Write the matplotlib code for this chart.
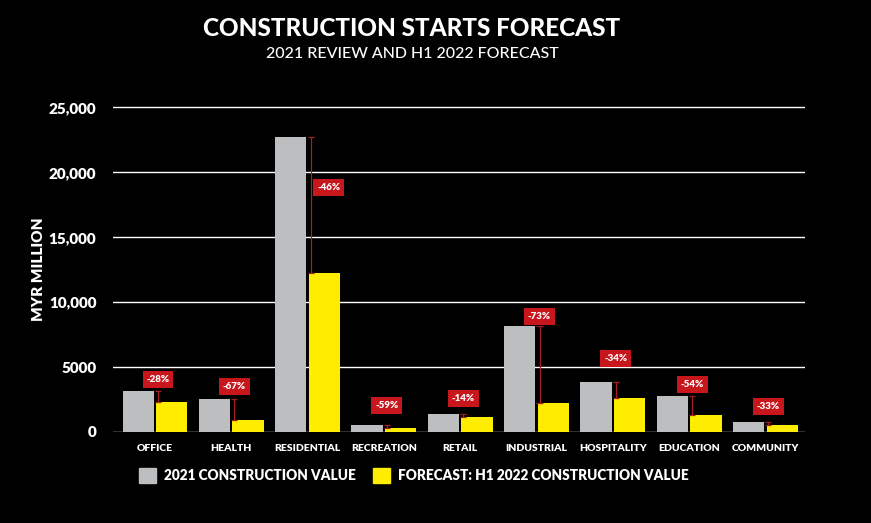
import matplotlib
matplotlib.use("Agg")
import matplotlib.pyplot as plt
import numpy as np
from matplotlib.patches import Patch

categories = ["OFFICE", "HEALTH", "RESIDENTIAL", "RECREATION", "RETAIL",
              "INDUSTRIAL", "HOSPITALITY", "EDUCATION", "COMMUNITY"]
value_2021 = [3140, 2530, 22700, 540, 1380, 8130, 3830, 2760, 770]
forecast_h1_2022 = [2300, 920, 12270, 300, 1150, 2220, 2600, 1300, 520]
change_labels = ["-28%", "-67%", "-46%", "-59%", "-14%", "-73%", "-34%", "-54%", "-33%"]
label_heights = [4060, 3530, 18860, 2070, 2600, 8900, 5670, 3680, 1990]
y_ticks = [0, 5000, 10000, 15000, 20000, 25000]
y_tick_labels = ["0", "5000", "10,000", "15,000", "20,000", "25,000"]

GRAY = "#BCBEC0"
YELLOW = "#FFED00"
RED = "#C8161D"
LINE_RED = "#A81E1E"
FONT = ["Lato", "DejaVu Sans"]

plt.rcParams["font.family"] = FONT

fig = plt.figure(figsize=(8.71, 5.23), dpi=100, facecolor="black")
ax = fig.add_axes([0.1297, 0.174, 0.7946, 0.623], facecolor="black")

x = np.arange(len(categories))
w = 0.41
gap = 0.015
for yt in y_ticks:
    ax.axhline(yt, color="white", lw=1.0, zorder=0)
ax.bar(x - w / 2 - gap, value_2021, w, color=GRAY, zorder=2)
ax.bar(x + w / 2 + gap, forecast_h1_2022, w, color=YELLOW, zorder=2)

# drop indicator between the two bars
xl = x + 0.04
ax.vlines(xl, forecast_h1_2022, value_2021, color=LINE_RED, lw=0.9, zorder=3)
ax.hlines(value_2021, xl - 0.04, xl + 0.04, color=LINE_RED, lw=0.9, zorder=3)
ax.hlines(forecast_h1_2022, xl - 0.04, xl + 0.04, color=LINE_RED, lw=0.9, zorder=3)

for i, (lab, h) in enumerate(zip(change_labels, label_heights)):
    lx = i + (0.28 if categories[i] == "RESIDENTIAL" else 0.04)
    ax.text(lx, h, lab, ha="center", va="center", color="white", fontsize=7,
            fontweight=800, zorder=4,
            bbox=dict(boxstyle="square,pad=0.4", fc=RED, ec="none"))

ax.set_xlim(-0.55, 8.52)
ax.set_ylim(0, 25100)
ax.set_yticks(y_ticks)
ax.set_yticklabels(y_tick_labels, color="white", fontsize=11, fontweight=800)
ax.set_xticks(x)
ax.set_xticklabels(categories, color="white", fontsize=7.5, fontweight=800)
ax.tick_params(axis="both", length=0)
ax.tick_params(axis="y", pad=12)
ax.tick_params(axis="x", pad=9)
for s in ax.spines.values():
    s.set_visible(False)

ax.set_ylabel("MYR MILLION", color="white", fontsize=11, fontweight=800, labelpad=3)

fig.text(0.473, 0.946, "CONSTRUCTION STARTS FORECAST", ha="center", va="center",
         color="white", fontsize=17.5, fontweight=900)
fig.text(0.473, 0.896, "2021 REVIEW AND H1 2022 FORECAST", ha="center", va="center",
         color="white", fontsize=11.5, fontweight=500)

handles = [Patch(color=GRAY, label="2021 CONSTRUCTION VALUE"),
           Patch(color=YELLOW, label="FORECAST: H1 2022 CONSTRUCTION VALUE")]
leg = fig.legend(handles=handles, loc="center left", bbox_to_anchor=(0.145, 0.091),
                 ncol=2, frameon=False, handlelength=1.3, handleheight=1.3,
                 handletextpad=0.6, columnspacing=1.2,
                 prop=dict(family=FONT, weight=800, size=9.8))
for t in leg.get_texts():
    t.set_color("white")

fig.savefig("out.png", dpi=100, facecolor="black")
